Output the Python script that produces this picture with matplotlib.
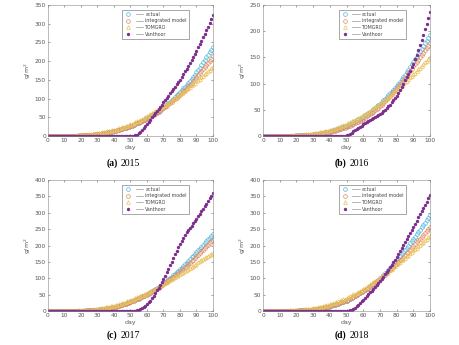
import matplotlib
matplotlib.use("Agg")
import matplotlib.pyplot as plt
from matplotlib.lines import Line2D
from matplotlib.legend_handler import HandlerTuple
import numpy as np

days = list(range(0, 101))

# ---- (a) 2015 ----
act_a = [0,0,0,0,0,0,0,0.05,0.1,0.1,
    0.1,0.15,0.2,0.25,0.3,0.4,0.5,0.6,0.7,0.85,
    1.0,1.2,1.4,1.65,1.9,2.2,2.5,2.85,3.2,3.6,
    4.0,4.7,5.5,6.2,7.0,7.9,8.8,9.8,10.8,11.9,
    13,14.2,15.4,16.7,18,19.3,20.6,21.9,23.2,24.6,
    26,28,30,32,34,36.2,38.5,40.7,43,45.5,
    48,50.7,53.5,56.2,59,61.7,64.5,67.5,70.5,73.7,
    77,80.7,84.5,88.2,92,96,100,104.2,108.5,112.7,
    117,122,127,132,137,142.2,147.5,153,158.5,164.2,
    170,176.5,183,189.7,196.5,203.2,210,217,224,231,
    238]
int_a = [0,0,0,0,0,0.05,0.1,0.1,0.1,0.15,
    0.2,0.3,0.4,0.5,0.6,0.75,0.9,1.05,1.2,1.35,
    1.5,1.75,2.0,2.3,2.6,2.95,3.3,3.7,4.1,4.55,
    5.0,5.7,6.4,7.1,7.9,8.7,9.5,10.3,11.2,12.1,
    13,14.2,15.4,16.7,18,19.2,20.5,21.8,23.2,24.6,
    26,27.8,29.6,31.5,33.4,35.4,37.4,39.5,41.6,43.8,
    46,48.6,51.2,53.9,56.6,59.4,62.2,65.1,68,71,
    74,77.4,80.8,84.3,87.8,91.4,95,98.7,102.4,106.2,
    110,114.4,118.9,123.5,128.1,132.8,137.5,142.3,147.1,152,
    157,162.2,167.5,172.9,178.3,183.9,189.5,195.2,201,207,
    213]
tom_a = [0,0.05,0.1,0.1,0.1,0.15,0.2,0.25,0.3,0.4,
    0.5,0.6,0.7,0.85,1.0,1.15,1.3,1.45,1.6,1.8,
    2.0,2.4,2.8,3.2,3.7,4.2,4.7,5.2,5.8,6.4,
    7.0,7.8,8.6,9.4,10.3,11.2,12.1,13,14,15,
    16,17.3,18.7,20.1,21.5,23,24.5,26.1,27.7,29.3,
    31,33,35,37.1,39.2,41.4,43.6,45.9,48.2,50.6,
    53,55.5,58.1,60.7,63.3,65.9,68.6,71.4,74.2,77.1,
    80,82.9,85.9,88.9,91.9,95,98.1,101.3,104.5,107.7,
    111,114.3,117.7,121.1,124.5,128,131.5,135.1,138.7,142.3,
    146,149.7,153.5,157.3,161.2,165.1,169,173,177,181,
    185]
van_a = [0.3,0.3,0.3,0.3,0.3,0.3,0.3,0.3,0.3,0.3,
    0.3,0.3,0.3,0.3,0.3,0.3,0.3,0.3,0.3,0.3,
    0.3,0.3,0.3,0.3,0.3,0.3,0.3,0.3,0.3,0.3,
    0.3,0.3,0.3,0.3,0.3,0.3,0.3,0.3,0.3,0.3,
    0.3,0.3,0.3,0.3,0.3,0.3,0.3,0.3,0.3,0.3,
    0.4,0.6,1,2.2,4,7.5,12,17,22,27.5,
    33,38.5,44,49.5,55,60.5,66,72,78,84,
    90,96,102,108,114,120,126,132,138,144,
    150,157.5,165,172.5,180,187.5,195,203,211,219.5,
    228,237,246,255,264,273.5,283,292.5,302,312,
    322]

# ---- (b) 2016 ----
act_b = [0,0,0,0,0,0.05,0.1,0.1,0.1,0.15,
    0.2,0.25,0.3,0.35,0.4,0.5,0.6,0.7,0.8,0.9,
    1.0,1.15,1.3,1.5,1.7,1.9,2.1,2.3,2.5,2.75,
    3.0,3.5,4.0,4.5,5.1,5.7,6.3,6.9,7.6,8.3,
    9,9.9,10.9,11.9,12.9,14,15.1,16.3,17.5,18.7,
    20,21.5,23.1,24.7,26.4,28.1,29.8,31.5,33.3,35.1,
    37,39.2,41.5,43.8,46.2,48.6,51.1,53.7,56.4,59.2,
    62,65.1,68.2,71.4,74.6,77.9,81.3,84.7,88.1,91.5,
    95,99.3,103.6,108.1,112.6,117.3,122,126.9,131.8,136.9,
    142,146.7,151.5,156.4,161.3,166.4,171.5,176.7,182,187.5,
    193]
int_b = [0,0,0,0,0,0,0,0.05,0.1,0.1,
    0.1,0.15,0.2,0.25,0.3,0.35,0.4,0.45,0.5,0.6,
    0.7,0.8,0.9,1.05,1.2,1.4,1.6,1.8,2.0,2.25,
    2.5,2.85,3.2,3.6,4.0,4.45,4.9,5.4,5.9,6.45,
    7,7.85,8.7,9.6,10.5,11.5,12.5,13.6,14.7,15.85,
    17,18.4,19.8,21.3,22.8,24.35,25.9,27.6,29.3,31.1,
    33,35.1,37.3,39.6,41.9,44.3,46.7,49.2,51.7,54.3,
    57,60.1,63.3,66.5,69.8,73.2,76.6,80.1,83.7,87.3,
    91,95,99,103,107.1,111.2,115.4,119.7,124,128.5,
    133,137.2,141.4,145.7,150,154.4,158.8,163.3,167.8,172.4,
    177]
tom_b = [0,0,0,0.05,0.1,0.1,0.1,0.15,0.2,0.25,
    0.3,0.4,0.5,0.6,0.7,0.8,0.9,1.05,1.2,1.35,
    1.5,1.7,1.9,2.15,2.4,2.7,3.0,3.35,3.7,4.1,
    4.5,5.05,5.6,6.2,6.8,7.45,8.1,8.8,9.5,10.25,
    11,12.05,13.1,14.2,15.3,16.5,17.7,19,20.3,21.65,
    23,24.55,26.1,27.7,29.3,31,32.7,34.5,36.3,38.15,
    40,42,44,46.1,48.2,50.4,52.6,54.9,57.2,59.6,
    62,64.45,66.9,69.45,72,74.6,77.2,79.85,82.5,85.25,
    88,90.85,93.7,96.6,99.5,102.5,105.5,108.6,111.7,114.85,
    118,121.15,124.3,127.5,130.7,133.95,137.2,140.4,143.6,146.8,
    150]
van_b = [0.2,0.2,0.2,0.2,0.2,0.2,0.2,0.2,0.2,0.2,
    0.2,0.2,0.2,0.2,0.2,0.2,0.2,0.2,0.2,0.2,
    0.2,0.2,0.2,0.2,0.2,0.2,0.2,0.2,0.2,0.2,
    0.2,0.2,0.2,0.2,0.2,0.2,0.2,0.2,0.2,0.2,
    0.2,0.2,0.2,0.2,0.2,0.2,0.2,0.2,0.2,0.2,
    1,2.3,4,6.5,9,11.5,14,16,18,20,
    22,24,26,28,30,32,34,36,38,40,
    42,44.5,47,50,53,56.5,60,64,68,72.5,
    77,82.5,88,94,100,106,112,118.5,125,131.5,
    138,146.5,155,164,173,183,193,203.5,214,225.5,
    237]

# ---- (c) 2017 ----
act_c = [0,0,0,0,0,0.05,0.1,0.1,0.1,0.15,
    0.2,0.25,0.3,0.35,0.4,0.5,0.6,0.7,0.8,0.9,
    1.0,1.2,1.4,1.65,1.9,2.2,2.5,2.85,3.2,3.6,
    4.0,4.7,5.4,6.2,7.0,7.8,8.6,9.45,10.3,11.15,
    12,13.4,14.8,16.3,17.8,19.4,21,22.7,24.4,26.2,
    28,30.2,32.4,34.7,37,39.4,41.8,44.3,46.8,49.4,
    52,54.9,57.8,60.8,63.8,66.9,70.1,73.5,76.9,80.4,
    84,88.1,92.2,96.4,100.6,105,109.5,114,118.6,123.3,
    128,132.8,137.7,142.7,147.7,152.9,158.1,163.4,168.8,174.4,
    180,185.4,190.8,196.3,201.8,207.4,213,218.7,224.4,230.2,
    236]
int_c = [0,0,0,0,0,0,0,0.05,0.1,0.1,
    0.1,0.15,0.2,0.25,0.3,0.35,0.4,0.5,0.6,0.7,
    0.8,1.0,1.2,1.45,1.7,1.95,2.2,2.5,2.8,3.15,
    3.5,4.15,4.8,5.5,6.2,6.95,7.7,8.5,9.3,10.15,
    11,12.4,13.8,15.3,16.8,18.4,20,21.7,23.4,25.2,
    27,29.15,31.3,33.5,35.7,38,40.3,42.7,45.1,47.55,
    50,52.9,55.8,58.8,61.8,64.9,68,71.4,74.8,78.4,
    82,85.75,89.5,93.35,97.2,101.1,105,108.95,112.9,116.95,
    121,125.35,129.7,134.15,138.6,143.15,147.7,152.45,157.2,162.1,
    167,171.9,176.8,181.8,186.8,191.9,197,202.2,207.4,212.7,
    218]
tom_c = [0,0.05,0.1,0.1,0.1,0.15,0.2,0.25,0.3,0.4,
    0.5,0.6,0.7,0.85,1.0,1.15,1.3,1.45,1.6,1.8,
    2.0,2.3,2.6,2.95,3.3,3.7,4.1,4.55,5.0,5.5,
    6.0,6.9,7.8,8.75,9.7,10.7,11.7,12.75,13.8,14.9,
    16,17.55,19.1,20.75,22.4,24.1,25.8,27.55,29.3,31.15,
    33,35.05,37.1,39.2,41.3,43.5,45.7,48,50.3,52.65,
    55,57.55,60.1,62.7,65.3,67.95,70.6,73.4,76.2,79.1,
    82,84.9,87.8,90.75,93.7,96.75,99.8,102.8,105.8,108.9,
    112,115.2,118.4,121.7,125,128.25,131.5,134.9,138.3,141.65,
    145,148.3,151.6,154.9,158.2,161.5,164.8,168.1,171.4,174.7,
    178]
van_c = [0.2,0.2,0.2,0.2,0.2,0.2,0.2,0.2,0.2,0.2,
    0.2,0.2,0.2,0.2,0.2,0.2,0.2,0.2,0.2,0.2,
    0.2,0.2,0.2,0.2,0.2,0.2,0.2,0.2,0.2,0.2,
    0.2,0.2,0.2,0.2,0.2,0.2,0.2,0.2,0.2,0.2,
    0.2,0.2,0.2,0.2,0.2,0.2,0.2,0.2,0.2,0.2,
    0.2,0.3,0.4,0.8,2,3.8,6,9,12,16,
    20,26,32,39.5,47,55,63,71.5,80,89,
    98,108,118,129,140,151,162,173,184,194.5,
    205,213.5,222,231,240,247,254,261,268,275,
    282,289.5,297,304.5,312,320,328,336,344,352,
    360]

# ---- (d) 2018 ----
act_d = [0,0,0,0.05,0.1,0.1,0.1,0.15,0.2,0.25,
    0.3,0.4,0.5,0.6,0.7,0.8,0.9,1.05,1.2,1.35,
    1.5,1.75,2.0,2.3,2.6,2.95,3.3,3.7,4.1,4.55,
    5.0,5.75,6.5,7.3,8.1,9.0,9.9,10.9,11.9,12.95,
    14,15.6,17.2,18.95,20.7,22.5,24.3,26.2,28.1,30.05,
    32,34.45,36.9,39.5,42.1,44.85,47.6,50.6,53.6,56.8,
    60,63.65,67.3,71.15,75,79,83,87.2,91.4,95.7,
    100,105,110.1,115.35,120.6,126.1,131.6,137.3,143,149,
    155,161.2,167.5,173.9,180.3,186.9,193.5,200,206.5,213.2,
    220,226.9,233.8,240.9,248,255.2,262.5,270,277.5,285.2,
    293]
int_d = [0,0,0,0,0,0.05,0.1,0.1,0.1,0.15,
    0.2,0.25,0.3,0.4,0.5,0.6,0.7,0.8,0.9,1.05,
    1.2,1.5,1.8,2.15,2.5,2.9,3.3,3.7,4.1,4.55,
    5.0,5.75,6.5,7.3,8.1,9.0,9.9,10.9,11.9,12.95,
    14,15.6,17.2,18.95,20.7,22.5,24.3,26.2,28.1,30.05,
    32,34.45,36.9,39.5,42.1,44.85,47.6,50.6,53.6,56.8,
    60,63.5,67,70.65,74.3,78.1,81.9,85.85,89.8,93.9,
    98,102.45,106.9,111.45,116,120.75,125.5,130.3,135.1,140.05,
    145,150.05,155.1,160.3,165.5,170.75,176,181.45,186.9,192.45,
    198,203.75,209.5,215.35,221.2,227.25,233.3,239.4,245.5,251.75,
    258]
tom_d = [0,0.05,0.1,0.15,0.2,0.25,0.3,0.35,0.4,0.5,
    0.6,0.75,0.9,1.05,1.2,1.4,1.6,1.8,2.0,2.25,
    2.5,2.95,3.4,3.9,4.4,4.95,5.5,6.1,6.7,7.35,
    8.0,9.05,10.1,11.25,12.4,13.6,14.8,16.05,17.3,18.65,
    20,21.8,23.6,25.5,27.4,29.35,31.3,33.45,35.6,37.8,
    40,42.6,45.2,47.9,50.6,53.4,56.2,59.1,62,65,
    68,71.2,74.4,77.7,81,84.45,87.9,91.4,94.9,98.45,
    102,105.8,109.6,113.5,117.4,121.4,125.4,129.5,133.6,137.8,
    142,146.2,150.4,154.7,159,163.3,167.6,171.95,176.3,180.65,
    185,189.4,193.8,198.25,202.7,207.2,211.7,216.25,220.8,225.4,
    230]
van_d = [0.3,0.3,0.3,0.3,0.3,0.3,0.3,0.3,0.3,0.3,
    0.3,0.3,0.3,0.3,0.3,0.3,0.3,0.3,0.3,0.3,
    0.3,0.3,0.3,0.3,0.3,0.3,0.3,0.3,0.3,0.3,
    0.3,0.3,0.3,0.3,0.3,0.3,0.3,0.3,0.3,0.3,
    0.3,0.3,0.3,0.3,0.3,0.3,0.3,0.3,0.3,0.3,
    0.4,0.9,2,3.7,6,9.5,14,19,24,29.5,
    35,40.5,46,51.5,57,62.5,68,73.5,79,85,
    91,98,105,112,119,126.5,134,141.5,149,157,
    165,174,183,192,201,210,219,228.5,238,247.5,
    257,266.5,276,285.5,295,305,315,324.5,334,344,
    354]

series_names = ["actual", "integrated model", "TOMGRO", "Vanthoor"]
captions = [("(a)", "2015"), ("(b)", "2016"), ("(c)", "2017"), ("(d)", "2018")]
ymax = [350, 250, 400, 400]
panel_data = [
    (act_a, int_a, tom_a, van_a),
    (act_b, int_b, tom_b, van_b),
    (act_c, int_c, tom_c, van_c),
    (act_d, int_d, tom_d, van_d),
]

# axes boxes in pixels (left, top, right, bottom)
boxes = [(48, 5, 213, 136), (263, 5, 430, 136), (48, 180, 213, 311), (263, 180, 430, 311)]
cap_pos = [(119, 163), (348, 163), (119, 335), (348, 335)]

W, H = 460, 345
fig = plt.figure(figsize=(W / 100, H / 100), dpi=100)

c_act = "#55B8E0"
c_int = "#E08A62"
c_tom = "#EBC15A"
c_van = "#7E2F8E"
axcol = "#555555"

for i, (l, t, r, b) in enumerate(boxes):
    ax = fig.add_axes([l / W, 1 - b / H, (r - l) / W, (b - t) / H])
    act, intg, tom, van = panel_data[i]
    h1, = ax.plot(days, act, "o", ms=2.7, mfc="none", mec=c_act, mew=0.5)
    h2, = ax.plot(days, intg, "o", ms=2.7, mfc="none", mec=c_int, mew=0.5)
    h3, = ax.plot(days, tom, "^", ms=2.7, mfc="none", mec=c_tom, mew=0.5)
    h4, = ax.plot(days, van, ".", ms=2.8, color=c_van)
    ax.set_xlim(0, 100)
    ax.set_ylim(0, ymax[i])
    ax.set_xticks(np.arange(0, 101, 10))
    ax.set_yticks(np.arange(0, ymax[i] + 1, 50))
    ax.tick_params(direction="in", length=1.5, width=0.4, labelsize=4.2,
                   colors=axcol, top=True, right=True, pad=1.5)
    for sp in ax.spines.values():
        sp.set_linewidth(0.4)
        sp.set_color("#888888")
    ax.set_xlabel("day", fontsize=4.5, color=axcol, labelpad=1.5)
    ax.set_ylabel("g/m$^2$", fontsize=4.5, color=axcol, labelpad=1)
    lines = [Line2D([], [], color="#999999", lw=0.5) for _ in range(4)]
    handles = [(h1, lines[0]), (h2, lines[1]), (h3, lines[2]), (h4, lines[3])]
    leg = ax.legend(handles, series_names,
                    handler_map={tuple: HandlerTuple(ndivide=None, pad=0.8)},
                    loc="upper right", bbox_to_anchor=(0.855, 0.965), fontsize=3.4,
                    frameon=True, fancybox=False, edgecolor="#666666", framealpha=1,
                    handlelength=4.0, handletextpad=0.5, borderpad=0.45,
                    labelspacing=0.35, borderaxespad=0)
    leg.get_frame().set_linewidth(0.4)
    for txt in leg.get_texts():
        txt.set_color("#444444")

    cx, cy = cap_pos[i]
    fig.text(cx / W - 0.003, 1 - cy / H, captions[i][0], ha="right", va="center",
             fontsize=7, fontweight="bold", family="Liberation Serif")
    fig.text(cx / W + 0.003, 1 - cy / H, captions[i][1], ha="left", va="center",
             fontsize=7, family="Liberation Serif")

fig.savefig("out.png", dpi=100)
